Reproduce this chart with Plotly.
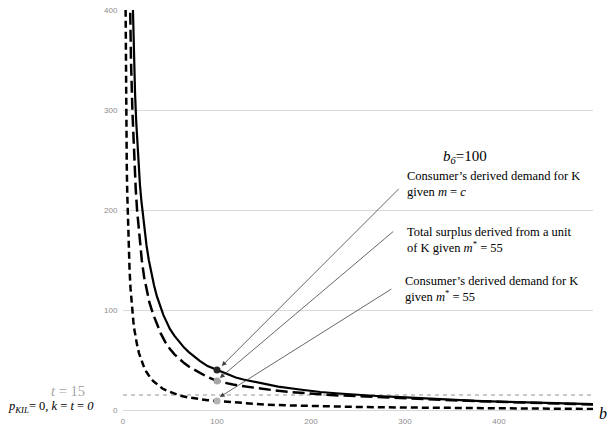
import plotly.graph_objects as go

# ---- data ----
# Consumer's derived demand for K given m = c (solid)
x_mc = [9, 10, 11, 12, 12.8, 14, 15, 16.5, 18, 19.5, 21, 23, 25, 27.5, 30, 33, 36, 39.5, 43, 46.5,
        50, 55, 60, 65, 70, 76, 82, 90, 100, 110, 120, 128, 140, 150, 165, 188, 210, 230, 250, 270,
        295, 320, 350, 375, 400, 425, 450, 475, 500]
y_mc = [460, 415, 372, 345, 318, 290, 272, 250, 226, 210, 196, 180, 165, 150, 137, 125, 114, 104, 95, 88,
        81, 74, 68, 62.5, 58, 53, 49, 44, 40, 36, 32.5, 30.5, 28, 26, 23.5, 20.5, 18, 16.5, 15, 14,
        12.8, 11.5, 10.3, 9.2, 8.3, 7.5, 6.8, 6.3, 5.8]

# Total surplus derived from a unit of K given m* = 55 (long dash)
x_ts = [6, 7, 7.5, 8.5, 10, 11, 12, 13.5, 15, 17, 20, 22.5, 25, 28, 32, 36, 40, 45, 50, 55, 60, 65,
        70, 80, 89, 100, 110, 117, 125, 135, 150, 160, 175, 188, 210, 230, 250, 270, 295, 320, 350,
        375, 400, 425, 450, 475, 500]
y_ts = [500, 430, 400, 350, 300, 275, 250, 222, 200, 178, 150, 133, 120, 108, 96, 86, 77, 68, 61, 55.5, 51, 47,
        43.5, 38, 33.5, 29, 26.7, 25.5, 24.2, 22.8, 20.8, 19.8, 18.3, 17.2, 15.7, 14.6, 13.7, 12.8, 11.8, 10.8, 9.8,
        9, 8.2, 7.4, 6.7, 6, 5.4]

# Consumer's derived demand for K given m* = 55 (short dash)
x_cd = [2, 2.5, 3, 3.3, 4, 4.5, 5, 6, 7, 8, 8.5, 9.5, 10, 11, 12, 13.5, 15, 17, 20, 22.5, 25, 27.5,
        30, 33, 36, 42, 46, 50, 55, 60, 70, 80, 90, 100, 110, 125, 150, 175, 200, 250, 300, 350, 400,
        450, 500]
y_cd = [500, 400, 333, 300, 245, 218, 196, 163, 140, 122, 115, 103, 98, 89, 81, 72, 65, 57, 48, 42.5, 38, 34.3,
        31, 28.3, 26, 21.5, 19.6, 18, 16.2, 14.5, 12.5, 10.8, 9.8, 9, 8.2, 7, 5.5, 4.6, 4, 3, 2.5, 2, 1.5,
        1.2, 1]

t_x = [0, 500]
t_y = [15, 15]

pt_x = [100, 100, 100]
pt_y = [40, 29, 9]
pt_colors = ["#262626", "#a6a6a6", "#b3b3b3"]

x_ticks = [0, 100, 200, 300, 400]
y_ticks = [0, 100, 200, 300, 400]

SERIF = "Liberation Serif"

fig = go.Figure()

fig.add_trace(go.Scatter(x=t_x, y=t_y, mode="lines",
                         line=dict(color="#c8c8c8", width=2, dash="4px,4px"),
                         hoverinfo="skip"))
fig.add_trace(go.Scatter(x=x_cd, y=y_cd, mode="lines",
                         line=dict(color="black", width=2.5, dash="7px,4px")))
fig.add_trace(go.Scatter(x=x_ts, y=y_ts, mode="lines",
                         line=dict(color="black", width=2.5, dash="12px,5px")))
fig.add_trace(go.Scatter(x=x_mc, y=y_mc, mode="lines",
                         line=dict(color="black", width=2.2)))
fig.add_trace(go.Scatter(x=pt_x, y=pt_y, mode="markers",
                         marker=dict(color=pt_colors, size=7, line=dict(width=0))))

ann = []
labels = [
    ("Consumer’s derived demand for K<br>given <i>m</i> = <i>c</i>", 300, 226, 105, 44, 295, 223),
    ("Total surplus derived from a unit<br>of K given <i>m</i><sup>*</sup> = 55", 300, 170, 103, 32, 289, 180),
    ("Consumer’s derived demand for K<br>given <i>m</i><sup>*</sup> = 55", 298, 121, 103, 13, 287, 122),
]
for txt, tx, ty, hx, hy, ax, ay in labels:
    ann.append(dict(x=tx, y=ty, xref="x", yref="y", text=txt, showarrow=False,
                    xanchor="left", yanchor="middle", align="left",
                    font=dict(family=SERIF, size=12.5, color="black")))
    ann.append(dict(x=hx, y=hy, xref="x", yref="y", ax=ax, ay=ay, axref="x", ayref="y",
                    text="", showarrow=True, arrowhead=2, arrowsize=1.2, arrowwidth=0.8,
                    arrowcolor="#404040", standoff=0, startstandoff=0))

ann.append(dict(x=364, y=253, xref="x", yref="y", xanchor="center", yanchor="middle",
                text="<i>b</i><sub><i>6</i></sub>=100", showarrow=False,
                font=dict(family=SERIF, size=15, color="black")))
ann.append(dict(x=-0.117, y=0.0475, xref="paper", yref="paper", xanchor="center", yanchor="middle",
                text="<i>t</i> = 15", showarrow=False,
                font=dict(family=SERIF, size=14.5, color="#a6a6a6")))
ann.append(dict(x=-0.153, y=0.0075, xref="paper", yref="paper", xanchor="center", yanchor="middle",
                text="<i>p</i><sub><i>KIL</i></sub>= 0, <i>k</i> = <i>t</i> = <i>0</i>", showarrow=False,
                font=dict(family=SERIF, size=12.5, color="black")))
ann.append(dict(x=1.008, y=-0.0075, xref="paper", yref="paper", xanchor="left", yanchor="middle",
                text="<i>b</i>", showarrow=False,
                font=dict(family=SERIF, size=16, color="black")))

fig.update_layout(
    width=608, height=427,
    margin=dict(l=123, r=15, t=10, b=17, autoexpand=False),
    paper_bgcolor="white", plot_bgcolor="white",
    showlegend=False,
    annotations=ann,
    xaxis=dict(range=[0, 500], tickvals=x_ticks, ticktext=[str(v) for v in x_ticks],
               showgrid=False, zeroline=False, showline=False, automargin=False,
               tickfont=dict(family="Liberation Sans", size=8, color="#8c8c8c"),
               ticks="outside", ticklen=3, tickcolor="rgba(0,0,0,0)",
               fixedrange=True, ticklabeloverflow="allow"),
    yaxis=dict(range=[0, 400.6], tickvals=y_ticks, ticktext=[str(v) for v in y_ticks],
               showgrid=True, gridcolor="#d9d9d9", gridwidth=1, automargin=False,
               zeroline=True, zerolinecolor="#d9d9d9", zerolinewidth=1, showline=False,
               tickfont=dict(family="Liberation Sans", size=8, color="#8c8c8c"),
               ticks="outside", ticklen=3, tickcolor="rgba(0,0,0,0)",
               fixedrange=True, ticklabeloverflow="allow"),
)

# remove the page's default body margin so the 608x427 figure fills the window exactly
fig.write_html("out.html",
               config={"displayModeBar": False},
               post_script="document.body.style.margin='0';document.body.style.overflow='hidden';")
